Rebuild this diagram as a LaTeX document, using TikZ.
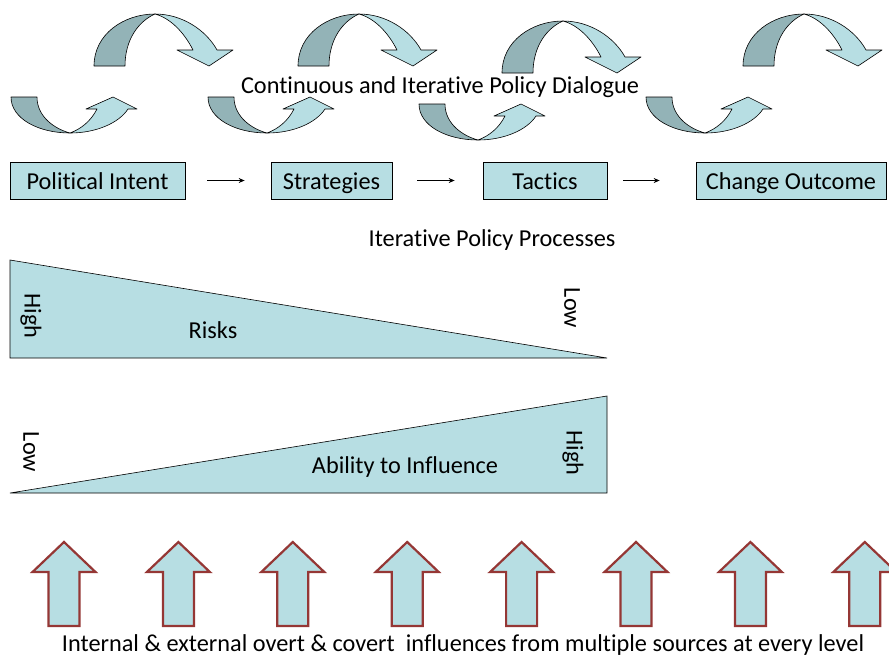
\documentclass[tikz,border=0pt]{standalone}
\usepackage{fontspec}
\setmainfont{Carlito}[RawFeature=-liga]
\usetikzlibrary{arrows.meta}
\definecolor{lightc}{HTML}{B7DEE3}
\definecolor{darkc}{HTML}{93B3B7}
\definecolor{redc}{HTML}{953735}
\tikzset{
  fs/.style={font=\fontsize{24.3}{28}\selectfont},
  stepbox/.style={draw=black, line width=0.7pt, fill=lightc, inner sep=0pt, minimum height=37pt,
    text height=17pt, text depth=0pt, fs},
  flow/.style={-{Stealth[length=6pt,width=5pt]}, line width=0.8pt},
  lbl/.style={fs, inner sep=0pt},
  bandline/.style={draw=black, line width=0.6pt, line join=round},
  overarrow/.pic={
    \path[bandline, fill=darkc] (0,0) .. controls (0,-32) and (30,-52) .. (61,-52)
      .. controls (45,-45) and (31,-27) .. (31,0) -- cycle;
    \path[bandline, fill=lightc] (61,-52) .. controls (88,-52) and (112,-36) .. (123,-16)
      -- (139,-16) -- (115,0) -- (83,-16) -- (99,-16)
      .. controls (90,-34) and (76,-48) .. (61,-52) -- cycle;
  },
  underarrow/.pic={
    \path[bandline, fill=darkc] (0,0) .. controls (0,22) and (28,36) .. (59,36)
      .. controls (44,32) and (26,20) .. (26,0) -- cycle;
    \path[bandline, fill=lightc] (59,36) .. controls (85,36) and (108,26) .. (117,12)
      -- (126,12) -- (102,0) -- (75,12) -- (86,12)
      .. controls (80,24) and (70,32) .. (59,36) -- cycle;
  },
  uparrow/.pic={
    \path[draw=redc, line width=2.2pt, fill=lightc, line join=miter]
      (0,0) -- (31.5,30) -- (15.5,30) -- (15.5,84) -- (-15.5,84) -- (-15.5,30) -- (-31.5,30) -- cycle;
  }
}
\begin{document}
\begin{tikzpicture}[x=1pt, y=-1pt]
\useasboundingbox (0,0) rectangle (889,657);
% curved arrows
\pic at (94,66) {overarrow};
\pic at (298,66) {overarrow};
\pic at (502,73) {overarrow};
\pic at (743,66) {overarrow};
\pic at (11,97) {underarrow};
\pic at (208,97) {underarrow};
\pic at (419,104) {underarrow};
\pic at (646,97) {underarrow};
\node[lbl] (dialogue) at (440,87) {Continuous and Iterative Policy Dialogue};
% process boxes
\node[stepbox, minimum width=175pt] (pi) at (97.5,180.5) {Political Intent};
\node[stepbox, minimum width=121pt] (st) at (331.5,180.5) {Strategies};
\node[stepbox, minimum width=124pt] (ta) at (545,180.5) {Tactics};
\node[stepbox, minimum width=190pt] (co) at (791,180.5) {Change Outcome};
\draw[flow, shorten <=22pt, shorten >=26pt] (pi) -- (st);
\draw[flow, shorten <=25pt, shorten >=28pt] (st) -- (ta);
\draw[flow, shorten <=16pt, shorten >=36pt] (ta) -- (co);
\node[lbl] (processes) at (492,240) {Iterative Policy Processes};
% risk triangle
\path[draw=black, line width=0.6pt, fill=lightc] (10,260) -- (10,358) -- (607,358) -- cycle;
\node[lbl, rotate=-90] (rhigh) at (31,316) {High};
\node[lbl] (risks) at (213,330) {Risks};
\node[lbl, rotate=-90] (rlow) at (572,308) {Low};
% ability triangle
\path[draw=black, line width=0.6pt, fill=lightc] (10,493) -- (607,493) -- (607,396) -- cycle;
\node[lbl, rotate=-90] (alow) at (31,452) {Low};
\node[lbl] (ability) at (405,467) {Ability to Influence};
\node[lbl, rotate=-90] (ahigh) at (573,453) {High};
% up arrows
\foreach \i in {0,...,7} {
  \pic at ({64+114.4*\i},542) {uparrow};
}
\node[lbl] (influences) at (463,645) {Internal \& external overt \& covert\ \ influences from multiple sources at every level};
\end{tikzpicture}
\end{document}
